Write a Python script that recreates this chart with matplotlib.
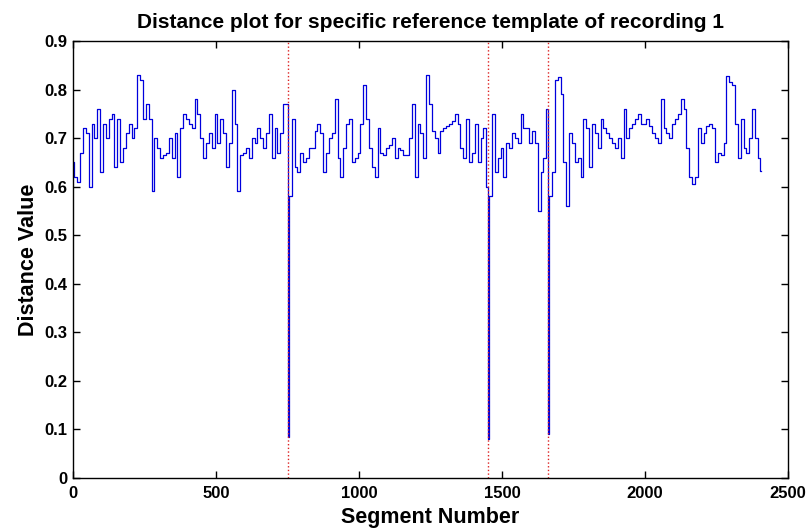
import numpy as np
import matplotlib
matplotlib.use("Agg")
import matplotlib.pyplot as plt

# Distance value read every 10 segments (segment 0 .. 2400)
values = [
    0.65, 0.62, 0.61, 0.67, 0.72, 0.71, 0.60, 0.73, 0.70, 0.76,
    0.63, 0.73, 0.70, 0.74, 0.75, 0.64, 0.74, 0.65, 0.68, 0.71,
    0.73, 0.70, 0.72, 0.83, 0.82, 0.74, 0.77, 0.74, 0.59, 0.70,
    0.68, 0.66, 0.665, 0.67, 0.70, 0.66, 0.71, 0.62, 0.72, 0.75,
    0.74, 0.73, 0.72, 0.78, 0.75, 0.70, 0.66, 0.69, 0.71, 0.68,
    0.75, 0.69, 0.74, 0.71, 0.64, 0.69, 0.80, 0.73, 0.59, 0.665,
    0.67, 0.68, 0.66, 0.70, 0.69, 0.72, 0.70, 0.68, 0.71, 0.75,
    0.66, 0.72, 0.67, 0.71, 0.77, 0.77, 0.58, 0.74, 0.64, 0.63,
    0.67, 0.65, 0.66, 0.68, 0.68, 0.715, 0.73, 0.71, 0.63, 0.67,
    0.70, 0.71, 0.78, 0.66, 0.62, 0.68, 0.73, 0.74, 0.65, 0.66,
    0.67, 0.73, 0.81, 0.74, 0.68, 0.64, 0.62, 0.72, 0.67, 0.665,
    0.68, 0.685, 0.70, 0.66, 0.68, 0.675, 0.665, 0.665, 0.70, 0.77,
    0.62, 0.73, 0.71, 0.66, 0.83, 0.77, 0.715, 0.70, 0.67, 0.715,
    0.72, 0.725, 0.73, 0.735, 0.75, 0.73, 0.68, 0.66, 0.74, 0.65,
    0.67, 0.73, 0.65, 0.70, 0.72, 0.60, 0.58, 0.75, 0.63, 0.66,
    0.68, 0.62, 0.69, 0.68, 0.71, 0.70, 0.69, 0.75, 0.72, 0.72,
    0.69, 0.715, 0.69, 0.55, 0.63, 0.66, 0.76, 0.58, 0.63, 0.82,
    0.825, 0.79, 0.65, 0.56, 0.71, 0.69, 0.65, 0.66, 0.62, 0.74,
    0.72, 0.64, 0.73, 0.71, 0.68, 0.74, 0.72, 0.71, 0.70, 0.69,
    0.68, 0.70, 0.66, 0.76, 0.70, 0.72, 0.73, 0.74, 0.75, 0.73,
    0.73, 0.74, 0.725, 0.71, 0.70, 0.69, 0.78, 0.72, 0.71, 0.70,
    0.73, 0.74, 0.75, 0.78, 0.76, 0.68, 0.62, 0.605, 0.62, 0.72,
    0.69, 0.71, 0.725, 0.73, 0.72, 0.65, 0.67, 0.665, 0.69, 0.827,
    0.815, 0.81, 0.73, 0.66, 0.74, 0.68, 0.67, 0.70, 0.76, 0.70,
    0.66,
]
last_segment = 2405
last_value = 0.633

# Sharp minima (reference template matches)
spike_segments = [751, 1452, 1662]
spike_values = [0.085, 0.08, 0.09]

title = "Distance plot for specific reference template of recording 1"
xlabel = "Segment Number"
ylabel = "Distance Value"
xticks = [0, 500, 1000, 1500, 2000, 2500]
yticks = [0, 0.1, 0.2, 0.3, 0.4, 0.5, 0.6, 0.7, 0.8, 0.9]

segments = list(np.arange(0, 10 * len(values), 10)) + [last_segment] + spike_segments
vals = list(values) + [last_value] + spike_values
order = np.argsort(segments, kind="stable")
x = np.array(segments)[order]
y = np.array(vals)[order]

plt.rcParams['font.family'] = ['Liberation Sans', 'DejaVu Sans']
fig = plt.figure(figsize=(8.09, 5.32), dpi=100)
ax = fig.add_axes([0.0902, 0.1015, 0.8838, 0.8215])

ax.plot(x, y, color='#0000dd', linewidth=0.9, drawstyle='steps-mid')
for s in spike_segments:
    ax.plot([s, s], [0, 0.9], color='#dd2222', linestyle=':', linewidth=1.0)

ax.set_xlim(0, 2500)
ax.set_ylim(0, 0.9)
ax.set_xticks(xticks)
ax.set_yticks(yticks)
ax.set_xticklabels([str(t) for t in xticks])
ax.set_yticklabels(['0'] + ['%.1f' % t for t in yticks[1:]])
ax.tick_params(direction='in', top=True, right=True, length=5, width=1,
               labelsize=12, pad=4)
ax.tick_params(axis='x', pad=6)
for lab in ax.get_xticklabels() + ax.get_yticklabels():
    lab.set_fontweight('bold')
for sp in ax.spines.values():
    sp.set_linewidth(1.0)

ax.set_title(title, fontsize=15, fontweight='bold', pad=9)
ax.set_xlabel(xlabel, fontsize=15.5, fontweight='bold', labelpad=4)
ax.set_ylabel(ylabel, fontsize=15.5, fontweight='bold', labelpad=4)

fig.savefig('out.png', dpi=100)
